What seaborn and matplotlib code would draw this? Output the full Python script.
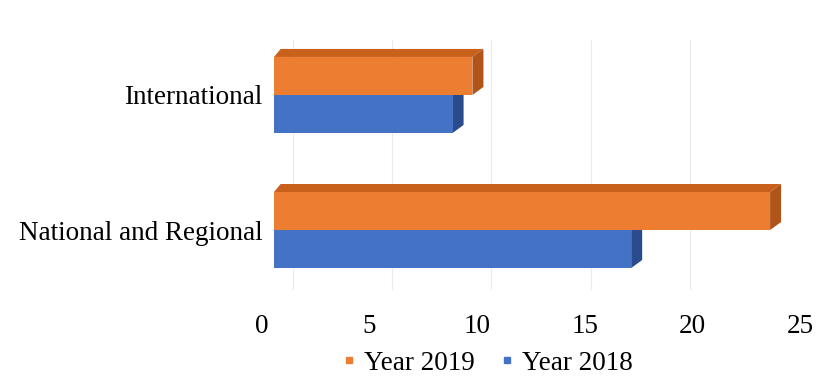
import numpy as np
import pandas as pd
import matplotlib.pyplot as plt
import seaborn as sns
from matplotlib.patches import Polygon
from matplotlib.lines import Line2D
import matplotlib.transforms as mtransforms

# data
categories = ['International', 'National and Regional']
year_2019 = [10, 25]
year_2018 = [9, 18]
series = ['Year 2019', 'Year 2018']
colors = {'Year 2019': '#ED7D31', 'Year 2018': '#4472C4'}
top_colors = {'Year 2019': '#C9601C', 'Year 2018': '#3A62AC'}
side_colors = {'Year 2019': '#B0541A', 'Year 2018': '#2B4C8C'}
ticks = [0, 5, 10, 15, 20, 25]

df = pd.DataFrame({
    'category': categories * 2,
    'value': year_2019 + year_2018,
    'series': ['Year 2019'] * 2 + ['Year 2018'] * 2,
})

sns.set_style('white')
plt.rcParams['font.family'] = ['Liberation Serif', 'DejaVu Serif']
plt.rcParams['text.color'] = 'black'
plt.rcParams['xtick.color'] = 'black'
plt.rcParams['ytick.color'] = 'black'

W, H = 829, 378
fig = plt.figure(figsize=(W / 100, H / 100), dpi=100)
ax = fig.add_axes([274 / W, (H - 290) / H, 506 / W, 250 / H])

sns.barplot(data=df, y='category', x='value', hue='series', hue_order=series,
            order=categories, palette=colors, width=0.563, orient='h',
            saturation=1, ax=ax, legend=False, zorder=3, linewidth=0)
ax.set_xlim(0, 25.5)
ax.set_ylim(1.444, -0.407)
ax.set_xlabel('')
ax.set_ylabel('')
ax.set_xticks(ticks)
ax.set_xticklabels([])
ax.tick_params(axis='y', length=0, pad=8.5, labelsize=19.5, labelcolor='black')
ax.tick_params(axis='x', length=0)
for s in ax.spines.values():
    s.set_visible(False)

# faint gridlines sit at the back wall (shifted right)
shift = mtransforms.ScaledTranslation(19 / 100, 0, fig.dpi_scale_trans)
ax.grid(axis='x', color='#ececec', lw=0.8)
ax.grid(axis='y', visible=False)
for gl in ax.get_xgridlines():
    gl.set_transform(gl.get_transform() + shift)
    gl.set_zorder(0)

# pseudo 3D faces for each bar
dx_px, dy_px = 11, 8
inv = ax.transData.inverted()
o = ax.transData.transform((0, 0))
ddx, ddy = inv.transform(o + np.array([dx_px, dy_px])) - inv.transform(o)
bars = [p for p in ax.patches]
for i, p in enumerate(bars):
    key = series[0] if i < len(categories) else series[1]
    x0, y0 = p.get_x(), p.get_y()
    w, h = p.get_width(), p.get_height()
    ytop = min(y0, y0 + h)
    ybot = max(y0, y0 + h)
    x1 = x0 + w
    top = Polygon([(x0, ytop), (x1, ytop), (x1 + ddx, ytop + ddy), (x0 + ddx * 0.6, ytop + ddy)],
                  closed=True, facecolor=top_colors[key], edgecolor='none', zorder=2, clip_on=False)
    side = Polygon([(x1, ytop), (x1, ybot), (x1 + ddx, ybot + ddy), (x1 + ddx, ytop + ddy)],
                   closed=True, facecolor=side_colors[key], edgecolor='none', zorder=2, clip_on=False)
    ax.add_patch(top)
    ax.add_patch(side)

# tick labels sit on the perspective floor, slightly wider spread
ax2 = fig.add_axes([250 / W, (H - 311) / H, 562 / W, 0.0001])
ax2.set_xlim(-12 / 21.52, 550 / 21.52)
ax2.set_xticks(ticks)
ax2.set_xticklabels([str(t) for t in ticks])
ax2.set_yticks([])
ax2.tick_params(axis='x', length=0, pad=2, labelsize=19.5, labelcolor='black')
for s in ax2.spines.values():
    s.set_visible(False)
ax2.patch.set_alpha(0)

handles = [Line2D([], [], marker='s', ls='', markersize=5, color=colors[s]) for s in series]
fig.legend(handles, series, loc='center', bbox_to_anchor=(487 / W, 15 / H), ncol=2,
           frameon=False, fontsize=19.5, handletextpad=0.25, columnspacing=0.9,
           handlelength=0.6, borderpad=0)

fig.savefig('out.png', dpi=100)
